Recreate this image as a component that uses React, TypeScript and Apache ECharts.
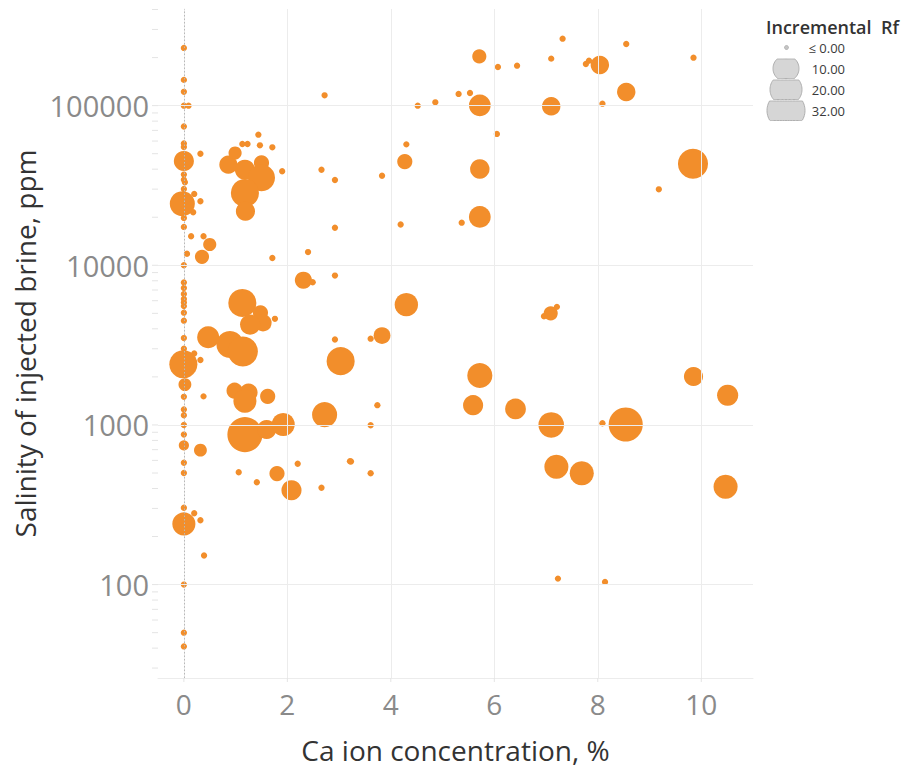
import React, { useEffect, useRef } from "react";
import * as echarts from "echarts";

// Ca ion concentration (%) for each core flood
const caConcentration = [
  0, 0, 0, 0, 0.09, 0, 0, 0, 0.32, 0, 0, 0, 0.02, 0, 0.2, -0.03, 0.32, 0.18, 0, 0,
  0.14, 0.38, 0.5, 0.06, 0.35, 0, 0, 0, 0, 0, 0, 0, 0, 0, 0, 0,
  0.2, -0.01, 0.32, 0.02, 0.38, 0, 0, 0, 0, 0, 0, 0.32, 0, 0, 0, 0.2, 0, 0.32, 0.39, 0, 0, 0,
  1.44, 1.13, 1.23, 1.47, 1.71, 1.9, 0.86, 0.99, 1.5, 1.18, 1.5, 1.18, 1.19,
  2.72, 2.66, 2.92, 2.92, 2.4, 1.71,
  5.71, 6.07, 6.44, 7.1, 4.52, 4.86, 5.31, 5.53, 5.72, 7.1, 6.05, 4.3, 4.27, 3.83, 5.72, 4.19,
  5.37, 5.72, 7.32, 7.77, 7.83, 8.04, 8.55, 9.85, 8.55, 8.09, 9.84, 9.18,
  4.3, 3.83, 3.61, 3.74, 3.61, 3.23, 3.61, 5.72, 5.59, 6.41, 7.09, 6.96, 7.21, 7.1, 7.2, 7.69,
  8.09, 8.54, 9.85, 10.51, 10.47, 7.23, 8.14,
  2.31, 2.49, 2.92, 1.13, 1.48, 1.53, 1.28, 0.47, 0.89, 1.14, 1.76, 2.92, 3.03, 0.98, 1.25, 1.62,
  1.18, 1.18, 1.6, 1.92, 1.06, 1.41, 1.8, 2.2, 2.08, 2.66, 2.72, 3.21,
];

// Salinity of the injected brine (ppm)
const brineSalinity = [
  230000, 145000, 122000, 100000, 100000, 74000, 58000, 55000, 50000, 45000, 37000, 34400, 33100,
  30100, 28000, 24300, 25200, 21500, 19800, 17400,
  15200, 15200, 13500, 11800, 11300, 10000, 7800, 7200, 6600, 6150, 5850, 5550, 5050, 4500, 3500,
  3000,
  2800, 2400, 2550, 1790, 1510, 1500, 1250, 1150, 1000, 870, 745, 695, 580, 500, 303, 280, 240, 253,
  152, 100, 50, 41,
  65800, 57500, 57500, 56400, 54800, 38800, 42700, 50500, 43800, 39700, 35300, 28400, 21800,
  116000, 39700, 34200, 17200, 12100, 11100,
  203500, 174700, 178000, 197000, 100000, 104900, 118400, 120100, 100400, 99000, 66500, 57200,
  44600, 36400, 40100, 18000,
  18500, 20100, 262700, 182400, 191300, 179800, 243400, 199800, 121800, 102900, 43300, 29900,
  5670, 3630, 3470, 1330, 995, 590, 498, 2040, 1330, 1260, 5000, 4800, 5490, 1000, 547, 498,
  1025, 1006, 2010, 1535, 410, 109, 104,
  8060, 7830, 8620, 5810, 5040, 4360, 4250, 3540, 3190, 2880, 4620, 3430, 2510, 1640, 1595, 1510,
  1410, 870, 936, 1006, 505, 438, 496, 571, 390, 404, 1160, 592,
];

// Incremental recovery factor (%), drives the bubble size
const incrementalRf = [
  0, 0, 0, 0, 0, 0, 0, 0, 0, 9.6, 0, 0, 0, 0, 0, 15.5, 0, 0, 0, 0,
  0, 0, 3.5, 0, 4.2, 0, 0, 0, 0, 0, 0, 0, 0, 0, 0, 0,
  0, 19.7, 0, 3.3, 0, 0, 0, 0, 0, 0, 1.7, 3.3, 0, 0, 0, 0, 13, 0, 0, 0, 0, 0,
  0, 0, 0, 0, 0, 0, 7.6, 3.5, 5, 9.6, 18.2, 19.7, 8.6,
  0, 0, 0, 0, 0, 0,
  4.2, 0, 0, 0, 0, 0, 0, 0, 11.4, 7.9, 0, 0, 5, 0, 8.9, 0,
  0, 11.4, 0, 0, 0, 7.9, 0, 0, 7.9, 0, 22.7, 0,
  13.3, 6.4, 0, 0, 0, 0, 0, 15.5, 9.6, 10.3, 4.2, 0, 0, 16.2, 14.2, 14.2,
  0, 29.5, 8.6, 10.7, 14.2, 0, 0,
  6.7, 0, 0, 19.7, 5, 6.7, 9.6, 11.8, 18.2, 22.7, 0, 0, 19.7, 5.8, 7.6, 5,
  13, 31.3, 8.6, 13, 0, 0, 5, 0, 9.6, 0, 15.5, 0,
];

// Axis ranges and tick positions
const xRange = [-0.5, 11];
const yRange = [26, 403000];
const xTickValues = [0, 2, 4, 6, 8, 10];
const yTickValues = [100, 1000, 10000, 100000];
const yMinorTickValues = [
  30, 40, 50, 60, 70, 80, 90,
  200, 300, 400, 500, 600, 700, 800, 900,
  2000, 3000, 4000, 5000, 6000, 7000, 8000, 9000,
  20000, 30000, 40000, 50000, 60000, 70000, 80000, 90000,
  200000, 300000, 400000,
];

// Size legend entries
const legendRf = [0, 10, 20, 32];

const ORANGE = "#F28E2B";
const GRID_COLOR = "#ececec";
const TICK_LABEL_COLOR = "#8a8a8a";
const TITLE_COLOR = "#333333";
const FONT = "'Open Sans', 'Noto Sans', sans-serif";

const bubbleSize = (rf: number) => Math.sqrt(40 + 38 * Math.max(0, rf));

// Circle outline clipped to a horizontal band, as a polygon
function clippedCircle(cx: number, cy: number, r: number, top: number, bottom: number) {
  const pts: number[][] = [];
  for (let i = 0; i < 72; i++) {
    const a = (i / 72) * Math.PI * 2;
    const y = Math.min(bottom, Math.max(top, cy + r * Math.sin(a)));
    pts.push([cx + r * Math.cos(a), y]);
  }
  return pts;
}

function buildLegend() {
  const diam = [4, 26, 32, 38];
  const rowTop = [37, 58, 79, 100];
  const rowH = 21;
  const els: any[] = [
    {
      type: "text",
      x: 766,
      y: 27,
      style: {
        text: "Incremental  Rf",
        fontFamily: FONT,
        fontSize: 18,
        fontWeight: 600,
        fill: TITLE_COLOR,
        verticalAlign: "middle",
        align: "left",
      },
    },
  ];
  legendRf.forEach((v, i) => {
    const cy = rowTop[i] + rowH / 2;
    const cx = 786;
    if (i === 0) {
      els.push({
        type: "circle",
        shape: { cx: cx + 0.5, cy, r: diam[i] / 2 },
        style: { fill: "#c4c4c4", stroke: "#a9a9a9", lineWidth: 0.8 },
      });
    } else {
      els.push({
        type: "polygon",
        shape: { points: clippedCircle(cx, cy, diam[i] / 2, rowTop[i] + 1, rowTop[i] + rowH - 0.5) },
        style: { fill: "#d6d6d6", stroke: "#b0b0b0", lineWidth: 1 },
      });
    }
    els.push({
      type: "text",
      x: 845,
      y: cy,
      style: {
        text: v === 0 ? "≤ 0.00" : v.toFixed(2),
        fontFamily: FONT,
        fontSize: 13,
        fill: "#3a3a3a",
        align: "right",
        verticalAlign: "middle",
      },
    });
  });
  return els;
}

export default function App() {
  const ref = useRef<HTMLDivElement>(null);

  useEffect(() => {
    if (!ref.current) return;
    const chart = echarts.init(ref.current, undefined, { renderer: "svg" });

    const points = caConcentration.map((x, i) => [x, brineSalinity[i], incrementalRf[i]]);
    const isPow10 = (v: number) => {
      const l = Math.log10(v);
      return Math.abs(l - Math.round(l)) < 1e-6;
    };

    chart.setOption({
      animation: false,
      backgroundColor: "#ffffff",
      grid: {
        left: 158,
        top: 9,
        right: 160,
        bottom: 91,
        containLabel: false,
        outerBoundsMode: "none",
      },
      xAxis: {
        type: "value",
        min: xRange[0],
        max: xRange[1],
        name: "Ca ion concentration, %",
        nameLocation: "middle",
        nameGap: 58,
        nameTextStyle: { fontFamily: FONT, fontSize: 28, color: TITLE_COLOR },
        axisLine: { show: true, lineStyle: { color: GRID_COLOR, width: 1 } },
        axisTick: { show: false },
        splitLine: { show: false },
        axisLabel: {
          fontFamily: FONT,
          fontSize: 28,
          color: TICK_LABEL_COLOR,
          margin: 12,
          formatter: (v: number) => (xTickValues.includes(v) ? String(v) : ""),
        },
      },
      yAxis: {
        type: "log",
        logBase: 10,
        min: yRange[0],
        max: yRange[1],
        name: "Salinity of injected brine, ppm",
        nameLocation: "middle",
        nameGap: 117,
        nameRotate: 90,
        nameTextStyle: { fontFamily: FONT, fontSize: 28, color: TITLE_COLOR },
        axisLine: { show: true, lineStyle: { color: GRID_COLOR, width: 1 } },
        axisTick: { show: false },
        splitLine: { show: false },
        axisLabel: {
          fontFamily: FONT,
          fontSize: 29,
          color: TICK_LABEL_COLOR,
          margin: 9,
          formatter: (v: number) => (isPow10(v) ? String(Math.round(v)) : ""),
        },
      },
      series: [
        {
          // grid lines and the dotted zero line
          type: "line",
          data: [],
          z: 1,
          markLine: {
            silent: true,
            symbol: "none",
            label: { show: false },
            animation: false,
            data: [
              ...xTickValues
                .filter((v) => v !== 0)
                .map((v) => ({ xAxis: v, lineStyle: { color: GRID_COLOR, width: 1, type: "solid" } })),
              ...yTickValues.map((v) => ({
                yAxis: v,
                lineStyle: { color: GRID_COLOR, width: 1, type: "solid" },
              })),
              { xAxis: 0, lineStyle: { color: "#b8b8b8", width: 1, type: [1.5, 2] } },
            ],
          },
        },
        {
          // outside tick marks on the log axis
          type: "custom",
          clip: false,
          silent: true,
          z: 1,
          data: [...yTickValues, ...yMinorTickValues].map((v) => [xRange[0], v]),
          encode: { x: 0, y: 1 },
          renderItem: (_p: any, api: any) => {
            const p = api.coord([api.value(0), api.value(1)]);
            return {
              type: "line",
              shape: { x1: p[0] - 6, y1: p[1], x2: p[0], y2: p[1] },
              style: { stroke: "#e4e4e4", lineWidth: 1 },
            };
          },
        },
        {
          // outside tick marks on the x axis
          type: "custom",
          clip: false,
          silent: true,
          z: 1,
          data: xTickValues.map((v) => [v, yRange[0]]),
          encode: { x: 0, y: 1 },
          renderItem: (_p: any, api: any) => {
            const p = api.coord([api.value(0), api.value(1)]);
            return {
              type: "line",
              shape: { x1: p[0], y1: p[1], x2: p[0], y2: p[1] + 4 },
              style: { stroke: "#e4e4e4", lineWidth: 1 },
            };
          },
        },
        {
          name: "Incremental Rf",
          type: "scatter",
          z: 3,
          data: points,
          symbol: "circle",
          symbolSize: (v: number[]) => bubbleSize(v[2]),
          itemStyle: { color: ORANGE, opacity: 1 },
        },
      ],
      graphic: buildLegend(),
    });

    return () => chart.dispose();
  }, []);

  return (
    <div
      ref={ref}
      style={{ position: "fixed", left: 0, top: 0, width: 913, height: 769, background: "#fff" }}
    />
  );
}
